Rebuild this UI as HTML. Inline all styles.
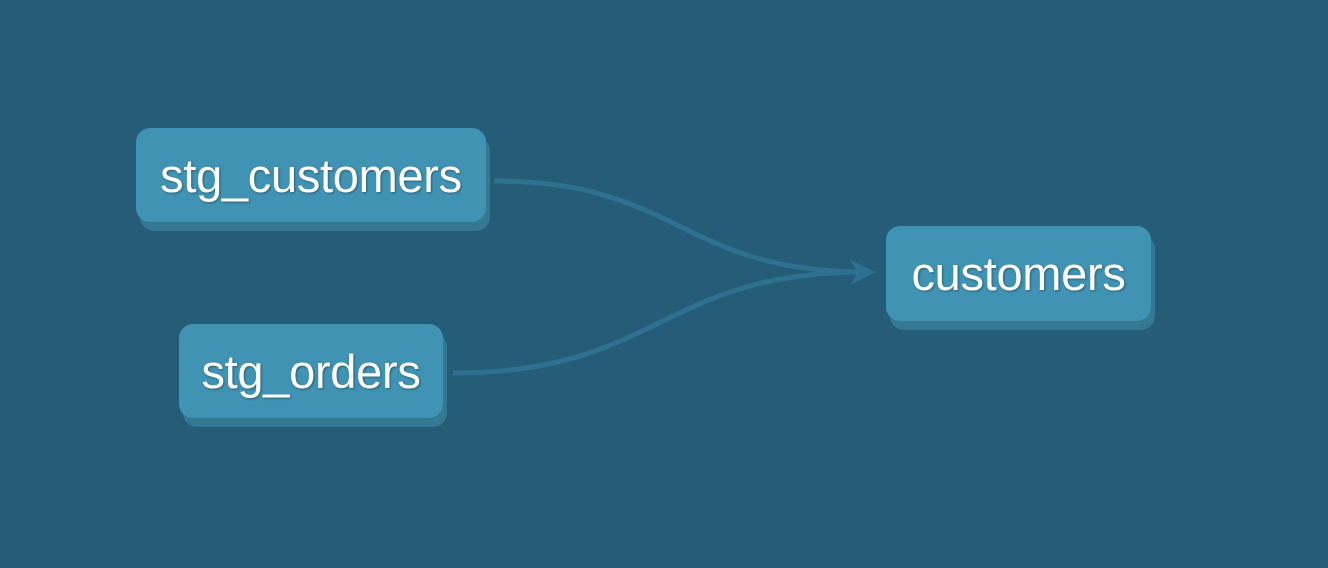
<!DOCTYPE html>
<html><head><style>
body{margin:0;width:1328px;height:568px;background:#255c77;overflow:hidden;position:relative;font-family:"Liberation Sans",sans-serif}
.n{position:absolute;border-radius:14px;background:#4093b3;box-shadow:4px 9px 0 #347894;color:#fff;font-size:47px;display:flex;align-items:center;justify-content:center;text-shadow:1px 1px 2px rgba(0,0,0,.35);letter-spacing:-0.3px}
</style></head><body>
<svg width="1328" height="568" style="position:absolute;left:0;top:0">
<g fill="none" stroke="#2e7090" stroke-width="5">
<path d="M494,181 C680,181 680,272 866,272"/>
<path d="M453,373 C660,373 660,272 866,272"/>
</g>
<path d="M850,260 L876,272 L850,285 L858,272 Z" fill="#2e7090"/>
</svg>
<div class="n" style="left:136px;top:128px;width:350px;height:94px">stg_customers</div>
<div class="n" style="left:179px;top:324px;width:264px;height:94px">stg_orders</div>
<div class="n" style="left:886px;top:226px;width:265px;height:95px">customers</div>
</body></html>
